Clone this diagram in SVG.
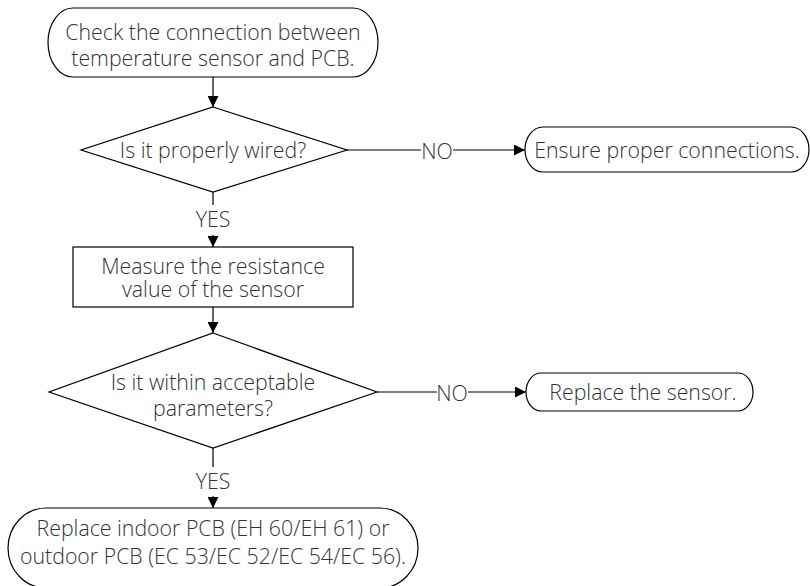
<svg xmlns="http://www.w3.org/2000/svg" width="810" height="586" viewBox="0 0 810 586">
<defs>
<marker id="arr" viewBox="0 0 10 10" refX="10" refY="5" markerWidth="11" markerHeight="11" markerUnits="userSpaceOnUse" orient="auto">
<path d="M0,0 L10,5 L0,10 Z" fill="#000"/>
</marker>
<style>
.s{fill:#fff;stroke:#000;stroke-width:1.2}
.c{fill:none;stroke:#000;stroke-width:1.2}
.t{font-family:"Open Sans","Liberation Sans",sans-serif;font-weight:300;font-size:21.3px;fill:#333;text-anchor:middle;dominant-baseline:central}
</style>
</defs>
<rect width="810" height="586" fill="#fff"/>
<g id="connectors">
<path class="c" d="M213,77 V107" marker-end="url(#arr)"/>
<path class="c" d="M213,192 V205"/>
<path class="c" d="M213,235 V247" marker-end="url(#arr)"/>
<path class="c" d="M347,150 H421"/>
<path class="c" d="M453,150 H525" marker-end="url(#arr)"/>
<path class="c" d="M213,307 V333" marker-end="url(#arr)"/>
<path class="c" d="M377,392 H437"/>
<path class="c" d="M468,392 H526" marker-end="url(#arr)"/>
<path class="c" d="M213,448 V467"/>
<path class="c" d="M213,496 V508" marker-end="url(#arr)"/>
<text class="t" x="213" y="218">YES</text>
<text class="t" x="437" y="150">NO</text>
<text class="t" x="452" y="392">NO</text>
<text class="t" x="213" y="480">YES</text>
</g>
<g id="start">
<rect class="s" x="48" y="8" width="330" height="69" rx="25" ry="34.5"/>
<text class="t" x="213" y="31">Check the connection between</text>
<text class="t" x="213" y="57">temperature sensor and PCB.</text>
</g>
<g id="d1">
<polygon class="s" points="213,107 347,150 213,192 81,150"/>
<text class="t" x="213" y="149">Is it properly wired?</text>
</g>
<g id="ensure">
<rect class="s" x="525" y="127" width="284" height="45" rx="18" ry="22.5"/>
<text class="t" x="667" y="149">Ensure proper connections.</text>
</g>
<g id="measure">
<rect class="s" x="73" y="247" width="280" height="60"/>
<text class="t" x="213" y="265">Measure the resistance</text>
<text class="t" x="213" y="288">value of the sensor</text>
</g>
<g id="d2">
<polygon class="s" points="213,333 377,392 213,448 49,392"/>
<text class="t" x="213" y="381">Is it within acceptable</text>
<text class="t" x="213" y="407">parameters?</text>
</g>
<g id="sensor">
<rect class="s" x="526" y="373" width="227" height="38" rx="15" ry="19"/>
<text class="t" x="643" y="391">Replace the sensor.</text>
</g>
<g id="pcb">
<rect class="s" x="8" y="508" width="410" height="80" rx="38" ry="40"/>
<text class="t" x="213" y="527">Replace indoor PCB (EH 60/EH 61) or</text>
<text class="t" x="213" y="555">outdoor PCB (EC 53/EC 52/EC 54/EC 56).</text>
</g>
</svg>
